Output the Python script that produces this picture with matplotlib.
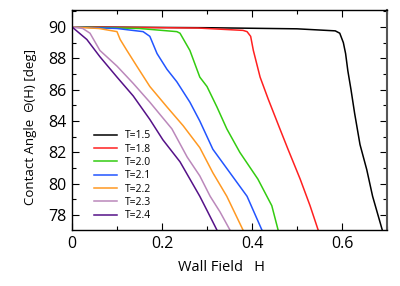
import matplotlib
matplotlib.use("Agg")
import matplotlib.pyplot as plt
from matplotlib.ticker import MultipleLocator

plt.rcParams['font.family'] = ['Open Sans', 'DejaVu Sans']

labels = ["T=1.5", "T=1.8", "T=2.0", "T=2.1", "T=2.2", "T=2.3", "T=2.4"]
colors = ["black", "#ff2020", "#33cc11", "#2255ff", "#ff9922", "#bb88bb", "#551188"]

h15 = [0, 0.3, 0.5, 0.585, 0.595, 0.603, 0.608, 0.613, 0.62, 0.628, 0.64, 0.655, 0.668, 0.68, 0.69]
t15 = [90, 89.95, 89.88, 89.75, 89.6, 89.0, 88.3, 87.2, 86.0, 84.5, 82.5, 80.9, 79.2, 78.0, 77.0]

h18 = [0, 0.28, 0.38, 0.389, 0.397, 0.403, 0.418, 0.436, 0.462, 0.48, 0.507, 0.529, 0.547]
t18 = [90, 89.93, 89.78, 89.7, 89.4, 88.5, 86.8, 85.4, 83.5, 82.2, 80.3, 78.6, 77.05]

h20 = [0, 0.15, 0.233, 0.24, 0.262, 0.284, 0.3, 0.322, 0.344, 0.373, 0.413, 0.444, 0.458]
t20 = [90, 89.9, 89.7, 89.6, 88.5, 86.8, 86.2, 84.9, 83.5, 82.0, 80.3, 78.6, 77.05]

h21 = [0, 0.1, 0.158, 0.173, 0.189, 0.211, 0.233, 0.262, 0.284, 0.313, 0.351, 0.389, 0.422]
t21 = [90, 89.9, 89.7, 89.4, 88.3, 87.3, 86.5, 85.2, 84.0, 82.2, 80.7, 79.2, 77.05]

h22 = [0, 0.06, 0.1, 0.107, 0.122, 0.144, 0.173, 0.211, 0.247, 0.284, 0.313, 0.344, 0.38]
t22 = [90, 89.9, 89.7, 89.2, 88.5, 87.5, 86.2, 84.9, 83.7, 82.3, 80.7, 79.2, 77.05]

h23 = [0, 0.024, 0.04, 0.062, 0.1, 0.136, 0.173, 0.222, 0.256, 0.284, 0.307, 0.329, 0.351]
t23 = [90, 89.9, 89.6, 88.5, 87.5, 86.4, 85.2, 83.5, 81.7, 80.5, 79.2, 78.2, 77.05]

h24 = [0, 0.033, 0.062, 0.1, 0.136, 0.173, 0.202, 0.24, 0.284, 0.3, 0.322]
t24 = [90, 89.2, 88.1, 86.8, 85.6, 84.1, 82.8, 81.4, 79.2, 78.3, 77.05]

series = [(h15, t15), (h18, t18), (h20, t20), (h21, t21), (h22, t22), (h23, t23), (h24, t24)]

fig = plt.figure(figsize=(4, 2.86), dpi=100)
ax = fig.add_axes([72 / 400, 1 - 230 / 286, 315 / 400, 220 / 286])

for (h, t), lab, c in zip(series, labels, colors):
    ax.plot(h, t, color=c, lw=1.1, label=lab)

ax.set_xlim(0, 0.7)
ax.set_ylim(77.05, 91.08)
ax.set_xticks([0, 0.2, 0.4, 0.6])
ax.set_xticklabels(["0", "0.2", "0.4", "0.6"])
ax.set_yticks([78, 80, 82, 84, 86, 88, 90])
ax.xaxis.set_minor_locator(MultipleLocator(0.1))
ax.yaxis.set_minor_locator(MultipleLocator(1))
ax.tick_params(which="both", direction="in", top=True, right=True, labelsize=11.5, pad=4)
ax.tick_params(which="major", length=5, width=0.8)
ax.tick_params(which="minor", length=3, width=0.8)
for s in ax.spines.values():
    s.set_linewidth(1.0)
ax.spines["right"].set_color("#555555")
ax.spines["right"].set_linewidth(1.5)

ax.set_xlabel("Wall Field   H", fontsize=10.5)
ax.set_ylabel("Contact Angle  \u0398(H) [deg]", fontsize=9.5)
ax.xaxis.set_label_coords(0.476, -0.135)
ax.yaxis.set_label_coords(-0.112, 0.47)

ax.legend(loc="lower left", bbox_to_anchor=(0.07, 0.04), borderaxespad=0, borderpad=0,
          frameon=False, fontsize=7.5, handlelength=2.2, handletextpad=0.8, labelspacing=0.22)

fig.savefig("out.png", dpi=100)
